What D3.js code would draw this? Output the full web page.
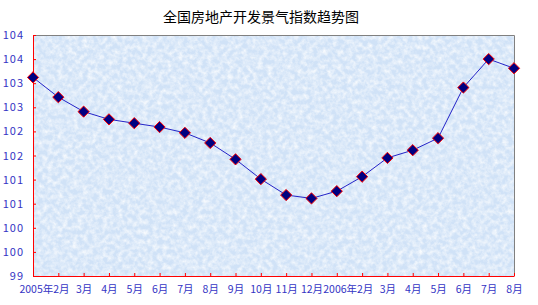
<!DOCTYPE html>
<html><head><meta charset="utf-8">
<script src="https://cdn.jsdelivr.net/npm/d3@7"></script>
<style>
body{margin:0;background:#fff;}
svg{display:block;}
</style></head>
<body>
<svg id="chart" width="538" height="305"></svg>
<script>
const title = "全国房地产开发景气指数趋势图";
const categories = ["2005年2月","","3月","4月","5月","6月","7月","8月","9月","10月","11月","12月","2006年2月","","3月","4月","5月","6月","7月","8月"];
const values = [103.12,102.71,102.41,102.25,102.17,102.09,101.97,101.76,101.42,101.01,100.68,100.61,100.76,101.06,101.45,101.61,101.86,102.91,103.50,103.31];
const yTicks = [99,99.5,100,100.5,101,101.5,102,102.5,103,103.5,104];
const yTickLabels = ["99","100","100","101","101","102","102","103","103","104","104"];

const svg = d3.select("#chart");
const W = 538, H = 305;
const m = {left:33, right:24, top:35, bottom:29};
const pw = W - m.left - m.right, ph = H - m.top - m.bottom;
const txtColor = "#3434c4";
const font = "'Noto Sans CJK SC', 'DejaVu Sans', sans-serif";

const defs = svg.append("defs");
const f = defs.append("filter").attr("id","tex").attr("x",0).attr("y",0).attr("width",1).attr("height",1);
f.append("feTurbulence").attr("type","fractalNoise").attr("baseFrequency","0.2").attr("numOctaves",3).attr("seed",7).attr("result","n");
f.append("feColorMatrix").attr("in","n").attr("type","matrix")
 .attr("values","0 0 0 0 1  0 0 0 0 1  0 0 0 0 1  1.5 0 0 0 -0.5");

const g = svg.append("g").attr("transform",`translate(${m.left},${m.top})`);

const x = d3.scalePoint().domain(d3.range(categories.length)).range([0,pw]);
const y = d3.scaleLinear().domain([99,104]).range([ph,0]);

g.append("rect").attr("width",pw).attr("height",ph).attr("fill","#d0e2f7");
g.append("rect").attr("width",pw).attr("height",ph).attr("fill","#fff").attr("filter","url(#tex)");

// top/right border
g.append("path").attr("d",`M0,0.5H${pw+0.5}V${ph}`).attr("fill","none").attr("stroke","#808080").attr("stroke-width",1);

// y axis
const ya = g.append("g").call(d3.axisLeft(y).tickValues(yTicks).tickSize(-3).tickPadding(9)
  .tickFormat((d,i)=>yTickLabels[i]));
ya.select(".domain").attr("stroke","#ff0000");
ya.selectAll(".tick line").attr("stroke","#ff0000");
ya.selectAll("text").attr("fill",txtColor).attr("font-family",font).attr("font-size",11).attr("letter-spacing","1px");

// x axis
const xa = g.append("g").attr("transform",`translate(0,${ph})`)
  .call(d3.axisBottom(x).tickSize(-3).tickPadding(10).tickSizeOuter(0).tickFormat(i=>categories[i]));
xa.select(".domain").attr("stroke","#ff0000");
xa.selectAll(".tick line").attr("stroke","#ff0000");
xa.selectAll("text").attr("fill",txtColor).attr("font-family",font).attr("font-size",10.5)
  .attr("dx",(i)=>categories[i].length>3?11:0);

// line
const line = d3.line().x((d,i)=>x(i)).y(d=>y(d));
g.append("path").datum(values).attr("d",line).attr("fill","none").attr("stroke","#2424c8").attr("stroke-width",1);

// markers
const sym = d3.symbol().type(d3.symbolDiamond2).size(80);
g.selectAll(".mk").data(values).join("path").attr("class","mk")
  .attr("transform",(d,i)=>`translate(${x(i)},${y(d)})`)
  .attr("d",sym).attr("fill","#000080").attr("stroke","#ff0000").attr("stroke-width",1);

svg.append("text").attr("x",261).attr("y",22).attr("text-anchor","middle")
  .attr("font-family",font).attr("font-size",14).attr("fill","#000").text(title);
</script>
</body></html>
